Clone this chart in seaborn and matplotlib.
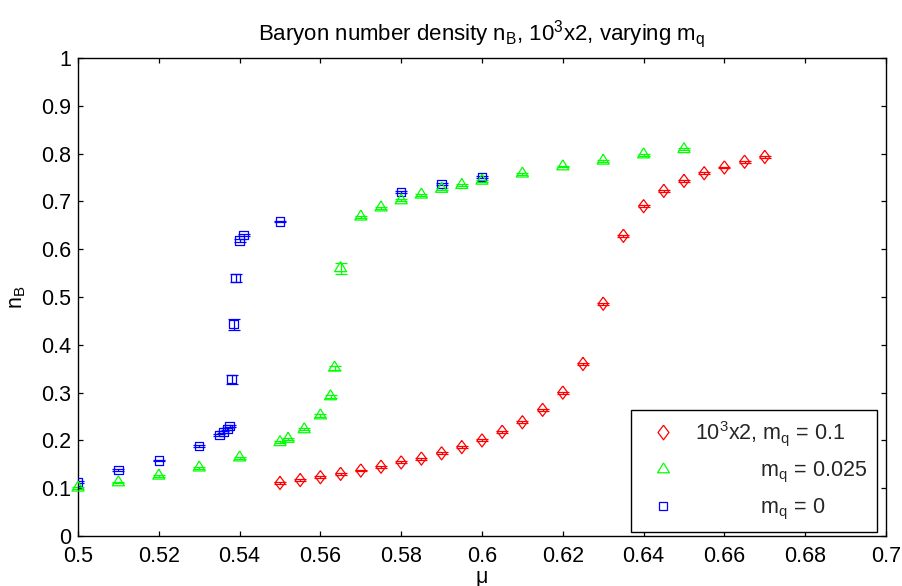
import numpy as np
import matplotlib
matplotlib.use("Agg")
import matplotlib.pyplot as plt
from matplotlib.lines import Line2D
import seaborn as sns

# ---------------- data ----------------
mu_red = [0.55, 0.555, 0.56, 0.565, 0.57, 0.575, 0.58, 0.585, 0.59, 0.595,
          0.6, 0.605, 0.61, 0.615, 0.62, 0.625, 0.63, 0.635, 0.64, 0.645,
          0.65, 0.655, 0.66, 0.665, 0.67]
nb_red = [0.111, 0.117, 0.123, 0.130, 0.137, 0.145, 0.154, 0.162, 0.173, 0.186,
          0.200, 0.218, 0.238, 0.264, 0.300, 0.360, 0.486, 0.628, 0.690, 0.722,
          0.743, 0.759, 0.771, 0.783, 0.793]
err_red = [0.002] * len(mu_red)

mu_green = [0.5, 0.51, 0.52, 0.53, 0.54, 0.55, 0.552, 0.556, 0.56, 0.5625,
            0.5635, 0.565, 0.57, 0.575, 0.58, 0.585, 0.59, 0.595, 0.6, 0.61,
            0.62, 0.63, 0.64, 0.65]
nb_green = [0.101, 0.112, 0.126, 0.143, 0.164, 0.196, 0.203, 0.223, 0.252, 0.292,
            0.352, 0.560, 0.668, 0.687, 0.702, 0.714, 0.726, 0.734, 0.743, 0.758,
            0.773, 0.785, 0.798, 0.809]
err_green = [0.002, 0.002, 0.002, 0.002, 0.002, 0.002, 0.002, 0.002, 0.003, 0.003,
             0.004, 0.011, 0.002, 0.002, 0.002, 0.002, 0.002, 0.002, 0.002, 0.002,
             0.002, 0.002, 0.002, 0.002]

mu_blue = [0.5, 0.51, 0.52, 0.53, 0.535, 0.536, 0.537, 0.5375, 0.538, 0.5385,
           0.539, 0.54, 0.541, 0.55, 0.58, 0.59, 0.6]
nb_blue = [0.113, 0.138, 0.158, 0.188, 0.211, 0.217, 0.224, 0.230, 0.328, 0.443,
           0.540, 0.618, 0.630, 0.658, 0.720, 0.737, 0.751]
err_blue = [0.002, 0.002, 0.002, 0.002, 0.002, 0.002, 0.002, 0.002, 0.009, 0.012,
            0.008, 0.003, 0.002, 0.002, 0.002, 0.002, 0.002]

labels = [r'$10^3$x2, m$_q$ = 0.1',
          '           m$_q$ = 0.025',
          '           m$_q$ = 0']
title = r'Baryon number density n$_B$, 10$^3$x2, varying m$_q$'
xticks = [0.5, 0.52, 0.54, 0.56, 0.58, 0.6, 0.62, 0.64, 0.66, 0.68, 0.7]
yticks = [0, 0.1, 0.2, 0.3, 0.4, 0.5, 0.6, 0.7, 0.8, 0.9, 1]

# ---------------- style ----------------
sns.set_theme(style="ticks")
plt.rcParams['font.family'] = ['Liberation Sans', 'DejaVu Sans']
plt.rcParams['mathtext.fontset'] = 'custom'
plt.rcParams['mathtext.rm'] = 'Liberation Sans'
plt.rcParams['mathtext.it'] = 'Liberation Sans'
plt.rcParams['mathtext.default'] = 'regular'

FS = 15.5
FS_T = 16
RED, GREEN, BLUE = '#ff0000', '#00ff00', '#0000ff'

tri = [(0, 1.0), (-0.9, -0.5), (0.9, -0.5), (0, 1.0)]
dia = [(0, 1.0), (0.75, 0), (0, -1.0), (-0.75, 0), (0, 1.0)]
sq = 's'

fig = plt.figure(figsize=(9.03, 5.86), dpi=100)
fig.patch.set_facecolor('white')
ax = fig.add_axes([78 / 903, 1 - 536 / 586, 808 / 903, 478 / 586])
ax.set_facecolor('white')

series = [
    (mu_blue, nb_blue, err_blue, BLUE, sq, 36, True),
    (mu_green, nb_green, err_green, GREEN, tri, 92, False),
    (mu_red, nb_red, err_red, RED, dia, 90, False),
]
for mu, nb, err, col, mk, s, clip in series:
    ax.errorbar(mu, nb, yerr=err, fmt='none', ecolor=col, elinewidth=0.9,
                capsize=4.2, capthick=0.9, zorder=2, clip_on=clip)
    sc = sns.scatterplot(x=mu, y=nb, marker=mk, s=s, color=col,
                         facecolors='none', edgecolor=col, linewidth=0.9,
                         ax=ax, zorder=3, legend=False)
    sc.collections[-1].set_clip_on(clip)

ax.set_xlim(0.5, 0.7)
ax.set_ylim(0, 1)
ax.set_xticks(xticks)
ax.set_xticklabels([f'{t:g}' for t in xticks])
ax.set_yticks(yticks)
ax.set_yticklabels([f'{t:g}' for t in yticks])
ax.tick_params(direction='in', length=3.5, width=0.9, top=True, right=True,
               labelsize=FS, colors='black', pad=5)
ax.tick_params(axis='x', pad=7)
for sp in ax.spines.values():
    sp.set_visible(True)
    sp.set_color('black')
    sp.set_linewidth(1.0)

ax.set_xlabel('μ', fontsize=FS, labelpad=0, color='black')
ax.set_ylabel('n$_B$', fontsize=FS, labelpad=9, color='black')
ax.set_title(title, fontsize=FS_T, pad=13, color='black')

handles = [
    Line2D([], [], linestyle='none', marker=dia, markersize=10.5,
           markerfacecolor='none', markeredgecolor=RED, markeredgewidth=0.9),
    Line2D([], [], linestyle='none', marker=tri, markersize=9.5,
           markerfacecolor='none', markeredgecolor=GREEN, markeredgewidth=0.9),
    Line2D([], [], linestyle='none', marker='s', markersize=5.5,
           markerfacecolor='none', markeredgecolor=BLUE, markeredgewidth=0.9),
]
leg = ax.legend(handles, labels, loc='lower right',
                bbox_to_anchor=(0.9889, 0.0084), borderaxespad=0,
                fontsize=FS, frameon=True, fancybox=False, framealpha=1,
                edgecolor='black', handlelength=2.1, handletextpad=0.45,
                labelspacing=0.55, borderpad=0.45)
leg.get_frame().set_linewidth(1.0)

fig.savefig('out.png', dpi=100, facecolor='white')
